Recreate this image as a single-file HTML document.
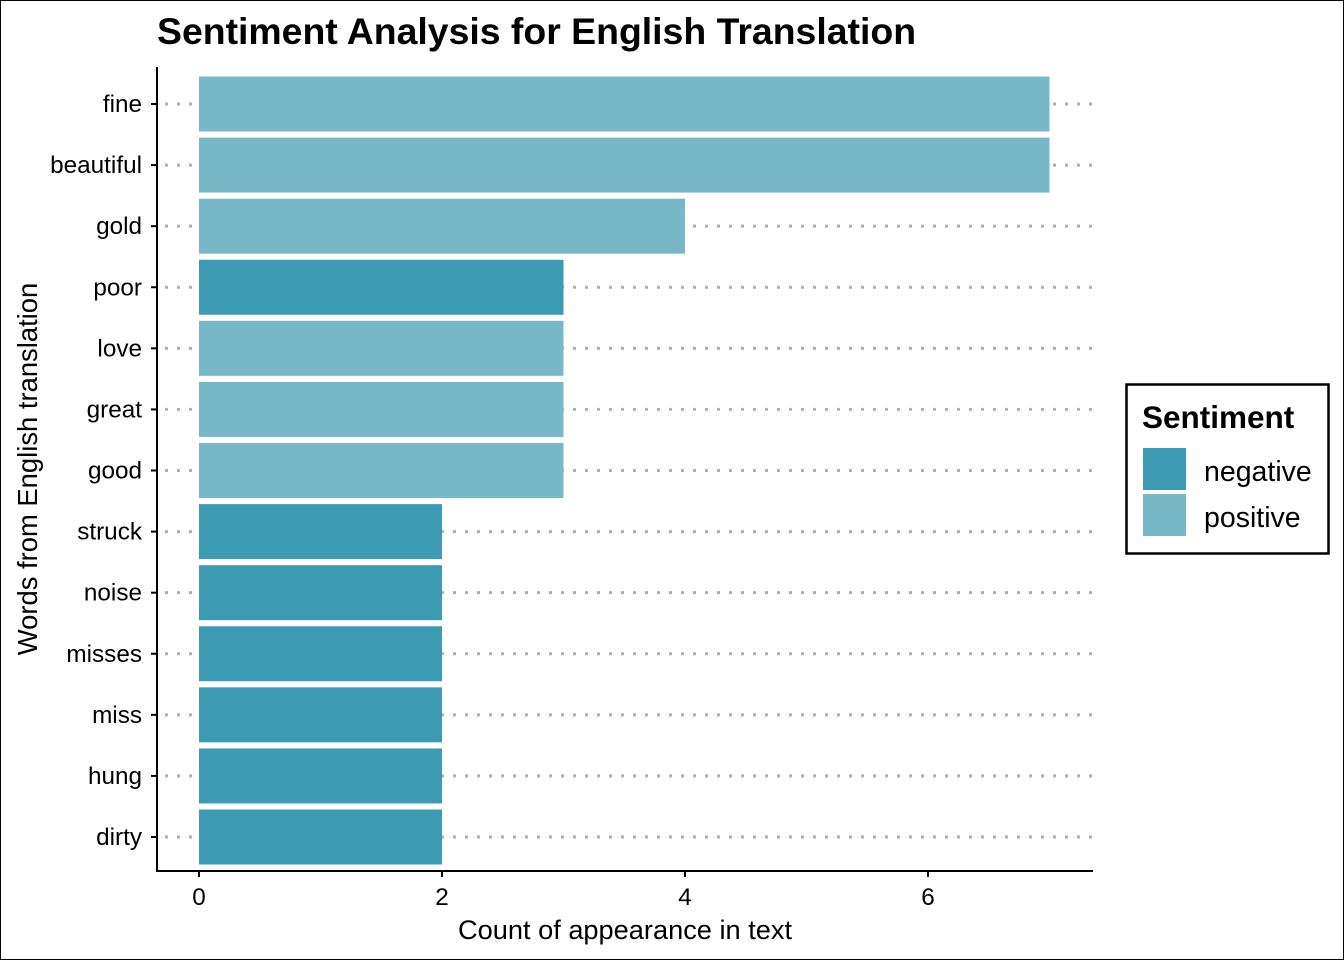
<!DOCTYPE html>
<html><head><meta charset="utf-8"><style>
html,body{margin:0;padding:0;background:#fff;}
svg{display:block;font-family:"Liberation Sans",Arial,sans-serif;}
</style></head><body>
<svg id="chart" width="1344" height="960" viewBox="0 0 1344 960">
<rect x="0.5" y="0.5" width="1343" height="959" fill="#fff" stroke="#000" stroke-width="1"/>
<text x="157" y="44" font-size="37.4" font-weight="bold" fill="#000">Sentiment Analysis for English Translation</text>
<g id="grid"></g><g id="bars"></g><g id="axes"></g>
<text transform="translate(37,469) rotate(-90)" text-anchor="middle" font-size="27.4" fill="#000">Words from English translation</text>
<text x="625" y="939" text-anchor="middle" font-size="27.2" fill="#000">Count of appearance in text</text>
<g>
<rect x="1126.5" y="384.5" width="202" height="169" fill="#fff" stroke="#000" stroke-width="2.5"/>
<text x="1142" y="428" font-size="31.5" font-weight="bold">Sentiment</text>
<rect x="1143" y="448" width="43" height="42" fill="#3C9AB2"/>
<text x="1204" y="481" font-size="28.5">negative</text>
<rect x="1143" y="494" width="43" height="42" fill="#78B7C5"/>
<text x="1204" y="527" font-size="28.5">positive</text>
</g>
</svg>
<script>
const words = ["fine","beautiful","gold","poor","love","great","good","struck","noise","misses","miss","hung","dirty"];
const counts = [7,7,4,3,3,3,3,2,2,2,2,2,2];
const sentiments = ["positive","positive","positive","negative","positive","positive","positive","negative","negative","negative","negative","negative","negative"];
const xTicks = [0,2,4,6];
(function(){
const NS="http://www.w3.org/2000/svg";
const colors={negative:"#3C9AB2",positive:"#78B7C5"};
const pLeft=157,pRight=1093,pTop=67,pBottom=871;
function xs(v){return 199+v*121.5;}
const step=(837-104)/(words.length-1);
function ys(i){return 104+i*step;}
const bw=step*0.9;
function mk(tag,attrs,parent){const e=document.createElementNS(NS,tag);for(const k in attrs)e.setAttribute(k,attrs[k]);document.getElementById(parent).appendChild(e);return e;}
words.forEach((w,i)=>{
  const g=mk("line",{x1:pLeft+8,x2:pRight,y1:ys(i),y2:ys(i),stroke:"#b0b0b0","stroke-width":3,"stroke-dasharray":"3,9"},"grid");
  
  
  const b=mk("rect",{x:xs(0),y:ys(i)-bw/2,width:xs(counts[i])-xs(0),height:bw,fill:colors[sentiments[i]]},"bars");
  
  
  const t=mk("line",{x1:pLeft-6,x2:pLeft,y1:ys(i),y2:ys(i),stroke:"#000","stroke-width":2},"axes");
  
  
  const l=mk("text",{x:pLeft-15,y:ys(i)+8,"text-anchor":"end","font-size":24.3,fill:"#000"},"axes");
  l.textContent=w;
  
  
});
xTicks.forEach(v=>{
  const t=mk("line",{x1:xs(v),x2:xs(v),y1:pBottom,y2:pBottom+6,stroke:"#000","stroke-width":2},"axes");
  
  
  const l=mk("text",{x:xs(v),y:pBottom+34,"text-anchor":"middle","font-size":24.3,fill:"#000"},"axes");
  l.textContent=v;
  
  
});
const ya=mk("line",{x1:pLeft,x2:pLeft,y1:pTop,y2:pBottom+1,stroke:"#000","stroke-width":2},"axes");


const xa=mk("line",{x1:pLeft-1,x2:pRight,y1:pBottom,y2:pBottom,stroke:"#000","stroke-width":2},"axes");


})();
</script>
</body></html>
